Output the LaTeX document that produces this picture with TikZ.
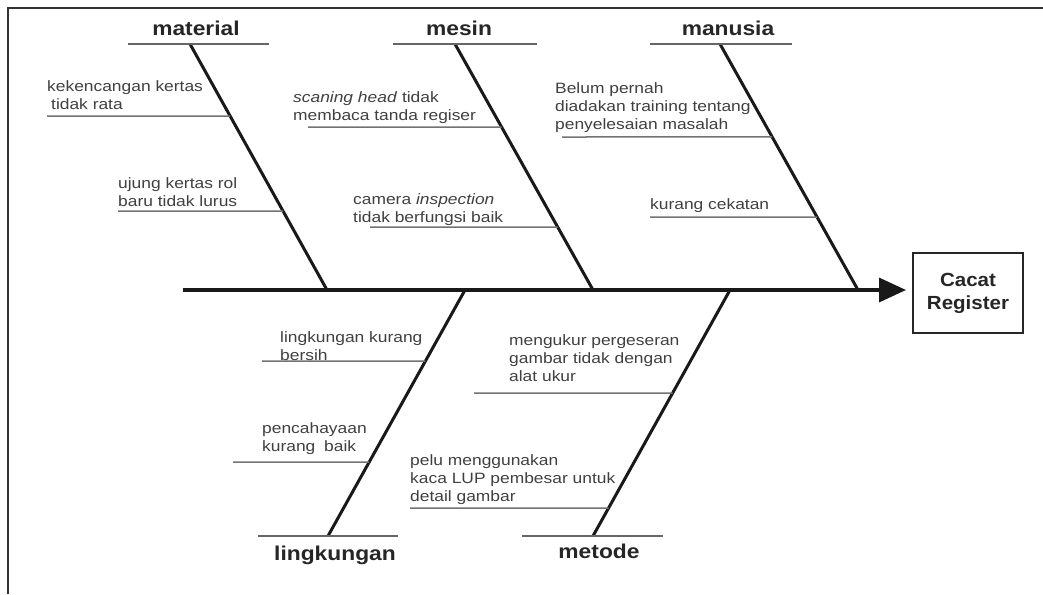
\documentclass[tikz,border=0pt]{standalone}
\usepackage{fontspec}
\setmainfont{Liberation Sans}[FakeStretch=1.16]
\newfontfamily\labfont{Liberation Sans}[FakeStretch=1.14]
\newfontfamily\efffont{Liberation Sans}[FakeStretch=1.08]
\usetikzlibrary{arrows.meta,calc}
\tikzset{
  frameline/.style={line width=2.5pt, black!80},
  bone/.style={line width=3pt, black!90},
  spine/.style={line width=3.5pt, black!90, -{Triangle[length=27pt,width=24pt]}},
  headline/.style={line width=2pt, black!60},
  subline/.style={line width=1.5pt, black!55},
  cause/.style={anchor=north west, inner sep=0pt, align=left, text=black!75,
    font=\fontsize{15}{18}\selectfont},
  cat/.style={anchor=base, inner sep=0pt, text=black!85,
    font=\labfont\bfseries\fontsize{20}{22}\selectfont},
  effect/.style={draw, line width=2pt, black!85, minimum width=110pt, minimum height=80pt,
    inner sep=0pt, align=center, text=black!85, font=\efffont\bfseries\fontsize{19}{23}\selectfont},
}
\begin{document}
\begin{tikzpicture}[x=1pt,y=-1pt]
\useasboundingbox (0,0) rectangle (1043,594);
\fill[white] (0,0) rectangle (1043,594);
\draw[frameline] (8,594) -- (8,8) -- (1043,8);

% effect box and spine
\node[effect] (eff) at (968,293) {Cacat\\Register};
\coordinate (spS) at (183,290);
\draw[spine, shorten >=6pt] (spS) -- (spS -| eff.west);

% bones
\coordinate (matT) at (190,44);  \coordinate (matB) at (327,290);
\coordinate (mesT) at (455,44);  \coordinate (mesB) at (593,290);
\coordinate (manT) at (720,44);  \coordinate (manB) at (858,290);
\coordinate (linT) at (465,290); \coordinate (linB) at (328,536);
\coordinate (metT) at (730,290); \coordinate (metB) at (593,536);
\draw[bone] (matT) -- (matB);
\draw[bone] (mesT) -- (mesB);
\draw[bone] (manT) -- (manB);
\draw[bone] (linT) -- (linB);
\draw[bone] (metT) -- (metB);

% category lines and labels
\draw[headline] (128,44) -- (269,44);
\draw[headline] (393,44) -- (537,44);
\draw[headline] (650,44) -- (792,44);
\draw[headline] (258,536) -- (398,536);
\draw[headline] (522,536) -- (663,536);
\node[cat] (lmat) at (196,36) {material};
\node[cat] (lmes) at (459,36) {mesin};
\node[cat] (lman) at (728,36) {manusia};
\node[cat] (llin) at (335,560) {lingkungan};
\node[cat] (lmet) at (599,558) {metode};

% cause lines
\draw[subline] (47,116) -- ($(matT)!0.2927!(matB)$);
\draw[subline] (118,211) -- ($(matT)!0.6789!(matB)$);
\draw[subline] (308,127) -- ($(mesT)!0.3374!(mesB)$);
\draw[subline] (370,227) -- ($(mesT)!0.7439!(mesB)$);
\draw[subline] (562,137) -- ($(manT)!0.378!(manB)$);
\draw[subline] (650,217) -- ($(manT)!0.7033!(manB)$);
\draw[subline] (262,361) -- ($(linT)!0.2886!(linB)$);
\draw[subline] (233,462) -- ($(linT)!0.6992!(linB)$);
\draw[subline] (474,393) -- ($(metT)!0.4187!(metB)$);
\draw[subline] (410,508) -- ($(metT)!0.8862!(metB)$);

% cause texts
\node[cause] (c1) at (47,78.4) {\strut kekencangan kertas\\\hspace{4pt}tidak rata};
\node[cause] (c2) at (118,175.4) {\strut ujung kertas rol\\baru tidak lurus};
\node[cause] (c3) at (293,89.4) {\strut\textit{scaning head} tidak\\membaca tanda regiser};
\node[cause] (c4) at (353,191.4) {\strut camera \textit{inspection}\\tidak berfungsi baik};
\node[cause] (c5) at (555,80.4) {\strut Belum pernah\\diadakan training tentang\\penyelesaian masalah};
\node[cause] (c6) at (650,196.4) {\strut kurang cekatan};
\node[cause] (c7) at (280,329.4) {\strut lingkungan kurang\\bersih};
\node[cause] (c8) at (262,420.4) {\strut pencahayaan\\kurang\hspace{4pt} baik};
\node[cause] (c9) at (509,332.4) {\strut mengukur pergeseran\\gambar tidak dengan\\alat ukur};
\node[cause] (c10) at (410,452.4) {\strut pelu menggunakan\\kaca LUP pembesar untuk\\detail gambar};
\end{tikzpicture}
\end{document}
